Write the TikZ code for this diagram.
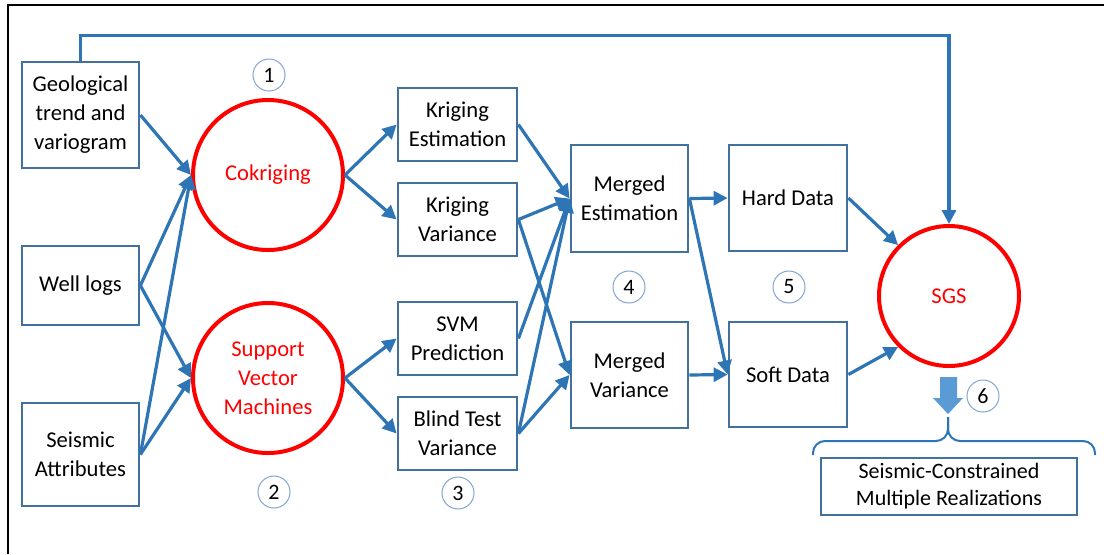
\documentclass[tikz,border=0pt]{standalone}
\usepackage{fontspec}
\setmainfont{Carlito}
\usetikzlibrary{arrows.meta}
\usepackage{xcolor}
\definecolor{boxblue}{HTML}{41719C}
\definecolor{linkblue}{HTML}{2E75B6}
\definecolor{numblue}{HTML}{7EA6D0}
\definecolor{fatblue}{HTML}{5B9BD5}

\begin{document}
\begin{tikzpicture}[x=0.5pt, y=-0.5pt,
        databox/.style={draw=boxblue, line width=1.4pt, align=center, inner sep=0pt,
            font=\fontsize{11.3}{14.5}\selectfont},
        method/.style={circle, draw=red, line width=2pt, text=red, align=center,
            inner sep=0pt, font=\fontsize{11.3}{14.5}\selectfont},
        stepnum/.style={circle, draw=numblue, line width=0.5pt, minimum size=16pt,
            inner sep=0pt, font=\fontsize{11}{12}\selectfont},
        link/.style={draw=linkblue, line width=1.6pt, -{Triangle[length=7pt, width=7pt]}},
    ]
        % frame
        \useasboundingbox (0,0) rectangle (1104,554);
        \draw[line width=1pt] (8,554) -- (8,5) -- (1104,5);

        % inputs
        \node[databox, minimum width=58.5pt, minimum height=53pt] (geo) at (80.5,115) {Geological\\trend and\\variogram};
        \node[databox, minimum width=58.5pt, minimum height=39.5pt] (well) at (80.5,285.5) {Well logs};
        \node[databox, minimum width=58.5pt, minimum height=51.5pt] (seis) at (80.5,454.5) {Seismic\\Attributes};

        % methods
        \node[method, minimum size=75pt] (cok) at (268,175) {Cokriging};
        \node[method, minimum size=75pt] (svm) at (268,378) {Support\\Vector\\Machines};
        \node[method, minimum size=70pt] (sgs) at (949,296) {SGS};

        % results
        \node[databox, minimum width=59.5pt, minimum height=36.5pt] (ke) at (457.5,124.5) {Kriging\\Estimation};
        \node[databox, minimum width=59.5pt, minimum height=36.5pt] (kv) at (457.5,219.5) {Kriging\\Variance};
        \node[databox, minimum width=59.5pt, minimum height=36.5pt] (svmp) at (457.5,338.5) {SVM\\Prediction};
        \node[databox, minimum width=59.5pt, minimum height=36.5pt] (btv) at (457.5,433.5) {Blind Test\\Variance};
        \node[databox, minimum width=58.5pt, minimum height=53.5pt] (me) at (629.5,198.5) {Merged\\Estimation};
        \node[databox, minimum width=58.5pt, minimum height=53pt] (mv) at (629.5,375) {Merged\\Variance};
        \node[databox, minimum width=59pt, minimum height=53pt] (hard) at (788,198) {Hard Data};
        \node[databox, minimum width=59pt, minimum height=52.5pt] (soft) at (788,374.5) {Soft Data};
        \node[databox, minimum width=128pt, minimum height=28.5pt, font=\fontsize{11}{13.5}\selectfont] (real) at (949,486.5) {Seismic-Constrained\\Multiple Realizations};

        % step numbers
        \node[stepnum] (n1) at (269,75) {1};
        \node[stepnum] (n2) at (274,492) {2};
        \node[stepnum] (n3) at (458,493) {3};
        \node[stepnum] (n4) at (629,287) {4};
        \node[stepnum] (n5) at (789,287) {5};
        \node[stepnum] (n6) at (983,396) {6};

        % connections
        \draw[link] (geo.north) -- ++(0,-25) -| (sgs.north);
        \draw[link] (geo.east) -- (cok.west);
        \draw[link] (well.east) -- (cok.west);
        \draw[link] (seis.east) -- (cok.west);
        \draw[link] (well.east) -- (svm.west);
        \draw[link] (seis.east) -- (svm.west);
        \draw[link] (cok.east) -- (ke.west);
        \draw[link] (cok.east) -- (kv.west);
        \draw[link] (svm.east) -- (svmp.west);
        \draw[link] (svm.east) -- (btv.west);
        \draw[link] (ke.east) -- (me.west);
        \draw[link] (kv.east) -- (me.west);
        \draw[link] (kv.east) -- (mv.west);
        \draw[link] (svmp.east) -- (me.west);
        \draw[link] (btv.east) -- (me.west);
        \draw[link] (btv.east) -- (mv.west);
        \draw[link] (me.east) -- (hard.west);
        \draw[link] (me.east) -- (soft.west);
        \draw[link] (mv.east) -- (soft.west);
        \draw[link] (hard.east) -- (sgs.135);
        \draw[link] (soft.east) -- (sgs.225);

        % output arrow and brace
        \fill[fatblue] (940,377) -- (957,377) -- (957,398) -- (963,398) -- (948,414) -- (933,398) -- (940,398) -- cycle;
        \draw[linkblue, line width=1pt, rounded corners=6pt] (813,455) -- (813,441) -- (948,441) -- (948,417);
        \draw[linkblue, line width=1pt, rounded corners=6pt] (948,417) -- (948,441) -- (1095,441) -- (1095,455);
\end{tikzpicture}
\end{document}
